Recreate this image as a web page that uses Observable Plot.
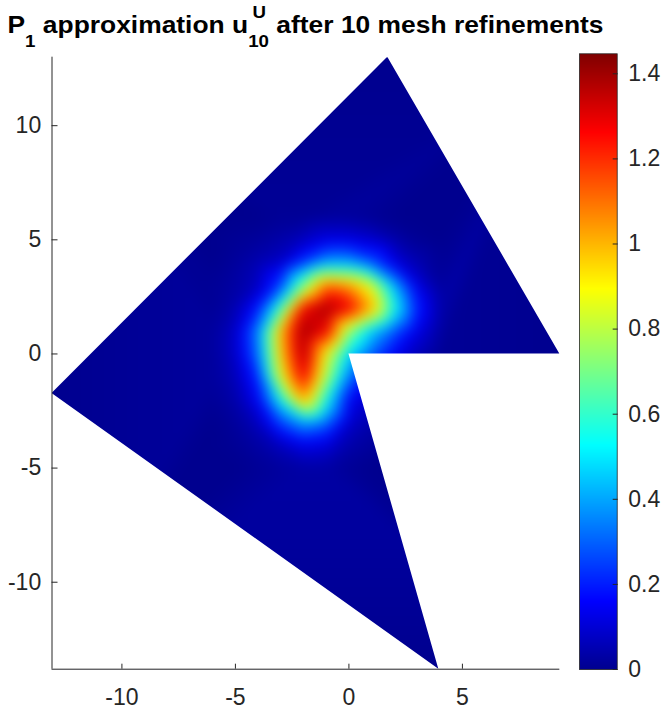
<!DOCTYPE html>
<html>
<head>
<meta charset="utf-8">
<script src="https://cdn.jsdelivr.net/npm/d3@7"></script>
<script src="https://cdn.jsdelivr.net/npm/@observablehq/plot@0.6"></script>
<style>
  body { margin: 0; background: #fff; }
  #wrap { position: relative; width: 669px; height: 711px; overflow: hidden;
          font-family: "Liberation Sans", Arial, Helvetica, sans-serif; }
  #title { position: absolute; left: 0; top: 10.7px; width: 611px; text-align: center;
           font-weight: bold; font-size: 24px; line-height: 28px; color: #000; white-space: nowrap;
           transform: scaleX(1.1); transform-origin: 305.5px 0; }
  #title .sub { font-size: 17px; position: relative; top: 14px; }
  #title .stk { font-size: 17px; position: relative; top: 14px; }
  #title .stk .sup { position: absolute; left: 4px; top: -28px; line-height: 17px; }
  #main { position: absolute; left: 0; top: 0; }
  #cbar { position: absolute; left: 579px; top: 0; }
</style>
</head>
<body>
<div id="wrap">
  <div id="main"></div>
  <div id="cbar"></div>
  <div id="title">P<span class="sub">1</span> approximation u<span class="stk"><span class="sup">U</span>10</span> after 10 mesh refinements</div>
</div>
<script>
// ---- axis limits and domain geometry ----
const xLim = [-13.08, 9.29];
const yLim = [-13.81, 13.0];
const domainPolygon = [[1.71, 13.0], [9.29, 0], [0, 0], [3.96, -13.81], [-13.08, -1.73]];

const gridX = [-6, -5, -4, -3, -2, -1, 0, 1, 2, 3, 4];
const gridY = [6, 5, 4, 3, 2, 1, 0, -1, -2, -3, -4, -5];
const uValues = [
  [0,    0,    0,    0.01, 0.01, 0.02, 0.02, 0.01, 0,    0,    0],
  [0,    0.01, 0.02, 0.04, 0.07, 0.12, 0.12, 0.09, 0.04, 0.01, 0],
  [0,    0.02, 0.05, 0.08, 0.24, 0.40, 0.40, 0.28, 0.12, 0.05, 0.01],
  [0.01, 0.03, 0.07, 0.25, 0.70, 1.12, 1.05, 0.85, 0.42, 0.12, 0.02],
  [0.01, 0.05, 0.20, 0.62, 1.30, 1.42, 1.30, 1.02, 0.55, 0.20, 0.04],
  [0.02, 0.08, 0.35, 1.00, 1.42, 1.30, 0.74, 0.45, 0.28, 0.12, 0.03],
  [0.02, 0.08, 0.32, 0.97, 1.40, 0.88, 0.48, 0.30, 0.15, 0.06, 0.01],
  [0.02, 0.06, 0.22, 0.87, 1.30, 0.78, 0.33, 0.17, 0.07, 0.03, 0.01],
  [0.01, 0.04, 0.15, 0.54, 1.05, 0.55, 0.15, 0.08, 0.03, 0.01, 0],
  [0,    0.02, 0.07, 0.26, 0.40, 0.32, 0.09, 0.04, 0.01, 0,    0],
  [0,    0.01, 0.03, 0.07, 0.13, 0.11, 0.04, 0.02, 0,    0,    0],
  [0,    0,    0.01, 0.02, 0.03, 0.03, 0.01, 0,    0,    0,    0]
];

// ---- ticks and colour map ----
const xTicks = [-10, -5, 0, 5];
const yTicks = [-10, -5, 0, 5, 10];
const cTicks = [0, 0.2, 0.4, 0.6, 0.8, 1, 1.2, 1.4];
const cMax = 1.447;
const jetStops = [0, 0.111, 0.365, 0.619, 0.873, 1];
const jetColors = ["#00008F", "#0000FF", "#00FFFF", "#FFFF00", "#FF0000", "#800000"];

// ---- build tables ----
const points = [];
gridY.forEach((y, i) => gridX.forEach((x, j) => points.push({x, y, v: uValues[i][j]})));
for (const x of xLim) for (const y of yLim) points.push({x, y, v: 0});

const colorOpts = {type: "linear", domain: jetStops.map(s => s * cMax), range: jetColors, clamp: true};
const fmt = d => String(d);
const ink = "#262626";
const style = {fontFamily: '"Liberation Sans", Arial, Helvetica, sans-serif', fontSize: "23px",
               color: ink, background: "transparent", overflow: "visible"};

// white mask outside the polygonal domain
function domainMask(index, scales) {
  const {x, y} = scales;
  const p = d3.path();
  const x0 = x(xLim[0]), x1 = x(xLim[1]), y0 = y(yLim[1]), y1 = y(yLim[0]);
  p.rect(x0 - 1, y0 - 1, x1 - x0 + 2, y1 - y0 + 2);
  domainPolygon.forEach(([a, b], i) => i ? p.lineTo(x(a), y(b)) : p.moveTo(x(a), y(b)));
  p.closePath();
  const el = document.createElementNS("http://www.w3.org/2000/svg", "path");
  el.setAttribute("d", p.toString());
  el.setAttribute("fill", "white");
  el.setAttribute("fill-rule", "evenodd");
  return el;
}

const main = Plot.plot({
  width: 575, height: 711,
  marginLeft: 51.5, marginRight: 15.7, marginTop: 56.7, marginBottom: 42.3,
  style,
  x: {domain: xLim, label: null},
  y: {domain: yLim, label: null},
  color: colorOpts,
  marks: [
    Plot.raster(points, {x: "x", y: "y", fill: "v", interpolate: "barycentric",
      x1: xLim[0], x2: xLim[1], y1: yLim[0], y2: yLim[1], blur: 6}),
    domainMask,
    Plot.ruleX([xLim[0]], {stroke: ink}),
    Plot.ruleY([yLim[0]], {stroke: ink}),
    Plot.axisX(xTicks, {tickSize: -5, tickPadding: 24, tickFormat: fmt, label: null, stroke: ink}),
    Plot.axisY(yTicks, {tickSize: -6, tickPadding: 16.8, tickFormat: fmt, label: null, stroke: ink})
  ]
});
document.getElementById("main").append(main);

const cbar = Plot.plot({
  width: 90, height: 711,
  marginLeft: 0, marginRight: 52.3, marginTop: 53.3, marginBottom: 42,
  style,
  x: {domain: [0, 1], axis: null},
  y: {domain: [0, cMax], label: null},
  color: colorOpts,
  marks: [
    Plot.raster({fill: (x, y) => y, x1: 0, x2: 1, y1: 0, y2: cMax, pixelSize: 1}),
    Plot.frame({stroke: ink, strokeWidth: 0.8}),
    Plot.axisY(cTicks, {anchor: "right", tickSize: -5, tickPadding: 16, tickFormat: fmt, label: null, stroke: ink})
  ]
});
document.getElementById("cbar").append(cbar);
</script>
</body>
</html>
